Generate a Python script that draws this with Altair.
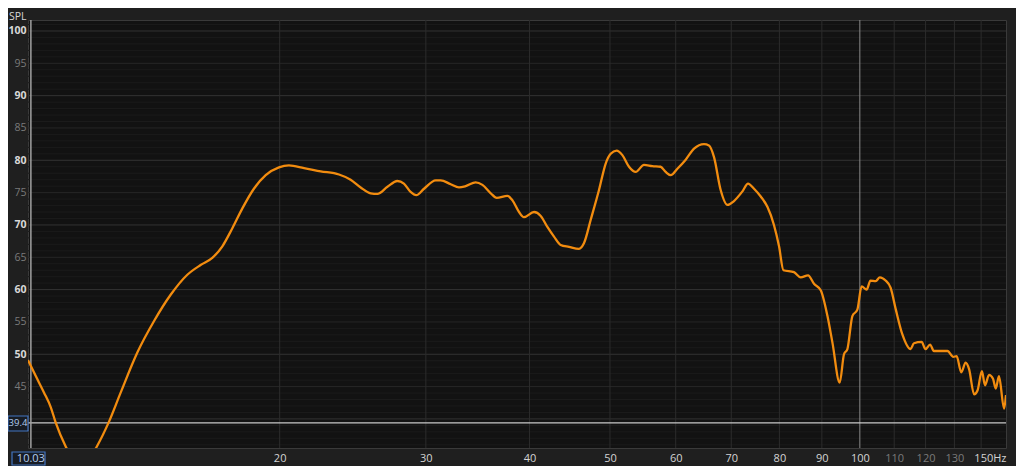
import altair as alt
import pandas as pd

# ---- data (frequency in Hz, SPL in dB) ----
freq_hz = [9.95, 10.16, 10.40, 10.60, 10.74, 11.05, 11.30, 11.51, 11.75, 12.04,
           12.45, 12.87, 13.48, 14.11, 14.78, 15.48, 16.06, 16.59, 17.06, 17.54,
           18.04, 18.62, 19.24, 19.96, 20.52, 21.40, 22.41, 23.58, 24.35, 25.04,
           25.74, 26.23, 26.97, 27.72, 28.23, 28.76, 29.22, 29.85, 30.83, 31.26,
           32.14, 32.89, 33.51, 34.45, 35.10, 35.92, 36.52, 37.62, 38.15, 38.85,
           39.39, 40.50, 41.26, 42.03, 42.81, 43.61, 44.63, 45.88, 46.53, 47.40,
           48.50, 49.41, 50.10, 50.93, 51.75, 52.71, 53.70, 54.95, 56.23, 57.54,
           58.35, 59.17, 60.28, 61.69, 63.13, 64.90, 65.80, 66.73, 67.97, 69.25,
           70.53, 72.21, 73.33, 74.56, 75.96, 77.38, 78.80, 79.92, 80.90, 83.30,
           84.87, 86.61, 88.06, 89.72, 91.41, 92.68, 94.56, 95.70, 96.61, 97.95,
           99.31, 100.5, 101.9, 103.0, 104.5, 105.7, 107.4, 108.9, 110.5, 112.5,
           115.1, 116.2, 118.7, 120.0, 121.5, 122.8, 127.5, 129.6, 130.8, 132.5,
           134.1, 135.4, 137.3, 138.6, 140.3, 141.5, 143.1, 144.7, 145.8, 147.1,
           149.2, 150.0]
spl_db = [49.1, 46.7, 44.1, 41.8, 39.5, 35.7, 33.5, 31.8, 33.5, 35.7,
          39.5, 44.1, 50.3, 55.1, 59.2, 62.3, 63.8, 64.9, 66.7, 69.5,
          72.6, 75.6, 77.7, 78.9, 79.2, 78.8, 78.3, 77.8, 77.0, 75.8,
          74.9, 74.8, 75.9, 76.8, 76.4, 75.1, 74.6, 75.6, 76.9, 76.9,
          76.3, 75.8, 76.0, 76.6, 76.2, 74.9, 74.2, 74.5, 73.8, 72.0,
          71.2, 72.0, 71.4, 69.7, 68.2, 66.9, 66.6, 66.3, 67.2, 70.8,
          75.4, 79.5, 81.0, 81.5, 80.8, 79.0, 78.2, 79.3, 79.1, 79.0,
          78.2, 77.7, 78.7, 80.1, 81.8, 82.5, 82.3, 80.5, 75.4, 73.1,
          73.7, 75.2, 76.4, 75.6, 74.4, 72.8, 70.0, 66.7, 63.0, 62.7,
          61.9, 62.2, 60.9, 59.9, 55.9, 51.8, 45.6, 50.0, 50.8, 55.9,
          56.9, 60.5, 60.0, 61.4, 61.3, 61.9, 61.4, 60.3, 56.9, 53.1,
          50.8, 51.7, 51.9, 50.8, 51.5, 50.5, 50.5, 49.6, 49.7, 47.2,
          48.7, 47.7, 43.8, 44.4, 47.4, 45.2, 46.8, 46.2, 44.7, 46.6,
          41.6, 43.7]

y_ticks = [45, 50, 55, 60, 65, 70, 75, 80, 85, 90, 95, 100]
x_ticks = [20, 30, 40, 50, 60, 70, 80, 90, 100, 110, 120, 130, 150]
grid_x = [20, 30, 40, 50, 60, 70, 80, 90, 100, 110, 120, 130, 140]
grid_y = list(range(36, 102))
cursor_freq = [10.03]
cursor_spl = [39.4]
cursor_freq_label = ["10.03"]
cursor_spl_label = ["39.4"]

W, H = 978, 428
FONT = "Open Sans"
xs = alt.Scale(type="log", domain=[9.95, 150])
ys = alt.Scale(domain=[35.5, 101.7])

xaxis = alt.Axis(
    values=x_ticks,
    labelExpr="datum.value == 150 ? '150Hz' : '' + datum.value",
    grid=False, ticks=False, domain=False, title=None,
    labelFont=FONT, labelFontSize=11, labelPadding=4,
    labelColor=alt.condition("datum.value >= 110 && datum.value <= 130",
                             alt.value("#7a7a7a"), alt.value("#d4d4d4")),
    labelAlign=alt.condition("datum.value == 150", alt.value("right"), alt.value("center")),
)
yaxis = alt.Axis(
    values=y_ticks,
    grid=False, ticks=False, domain=False, title=None,
    labelFont=FONT, labelFontSize=10.5, labelPadding=2,
    labelColor=alt.condition("datum.value % 10 == 0",
                             alt.value("#d8d8d8"), alt.value("#7a7a7a")),
    labelFontWeight=alt.condition("datum.value % 10 == 0",
                                  alt.value("bold"), alt.value("normal")),
)

def hcol(v):
    if v % 10 == 0:
        return "#333333"
    if v % 5 == 0:
        return "#262626"
    return "#1b1b1b"

hgrid_df = pd.DataFrame({"v": grid_y, "c": [hcol(v) for v in grid_y]})
vgrid_df = pd.DataFrame({"f": grid_x,
                         "c": ["#8a8a8a" if f == 100 else "#2c2c2c" for f in grid_x]})
curve_df = pd.DataFrame({"f": freq_hz, "spl": spl_db})
cur_df = pd.DataFrame({"f": cursor_freq, "spl": cursor_spl,
                       "fl": cursor_freq_label, "sl": cursor_spl_label})

hgrid = alt.Chart(hgrid_df).mark_rule(strokeWidth=1).encode(
    y=alt.Y("v:Q", scale=ys, axis=yaxis),
    color=alt.Color("c:N", scale=None),
)
vgrid = alt.Chart(vgrid_df).mark_rule(strokeWidth=1).encode(
    x=alt.X("f:Q", scale=xs, axis=xaxis),
    color=alt.Color("c:N", scale=None),
)
curve = alt.Chart(curve_df).mark_line(
    color="#f28c0f", strokeWidth=2.3, interpolate="monotone", clip=True
).encode(
    x=alt.X("f:Q", scale=xs, axis=xaxis),
    y=alt.Y("spl:Q", scale=ys, axis=yaxis),
)
cur_h = alt.Chart(cur_df).mark_rule(color="#c8c8c8", strokeWidth=1.2).encode(
    y=alt.Y("spl:Q", scale=ys, axis=yaxis))
cur_v = alt.Chart(cur_df).mark_rule(color="#a0a0a0", strokeWidth=1.5).encode(
    x=alt.X("f:Q", scale=xs, axis=xaxis))

box_x = alt.Chart(cur_df).mark_rect(fill="#171c24", stroke="#4274c0", strokeWidth=1.2).encode(
    x=alt.value(-16), x2=alt.value(17), y=alt.value(432), y2=alt.value(445))
txt_x = alt.Chart(cur_df).mark_text(font=FONT, fontSize=11, color="#b4cdf0",
                                    align="center", baseline="middle").encode(
    x=alt.X("f:Q", scale=xs, axis=xaxis), y=alt.value(438.5), text="fl:N")
box_y = alt.Chart(cur_df).mark_rect(fill="#171c24", stroke="#4274c0", strokeWidth=1.2).encode(
    x=alt.value(-20), x2=alt.value(0), y=alt.value(396), y2=alt.value(411))
txt_y = alt.Chart(cur_df).mark_text(font=FONT, fontSize=9.5, color="#b4cdf0",
                                    align="center", baseline="middle").encode(
    x=alt.value(-10), y=alt.Y("spl:Q", scale=ys, axis=yaxis), text="sl:N")
spl_title = alt.Chart(cur_df).mark_text(font=FONT, fontSize=10.5, color="#d8d8d8",
                                        align="left", baseline="middle").encode(
    x=alt.value(-19), y=alt.value(-3), text=alt.value("SPL"))

chart = alt.layer(hgrid, vgrid, cur_h, cur_v, curve, box_x, txt_x, box_y, txt_y, spl_title).properties(
    width=W, height=H,
    padding={"left": 20, "top": 12, "right": 10, "bottom": 18},
    autosize=alt.AutoSizeParams(type="none"),
    background="#1f1f1f",
).configure_view(fill="#121212", stroke="#3a3a3a", strokeWidth=1)

chart.save("out.html", embed_options={"renderer": "svg", "actions": False})
